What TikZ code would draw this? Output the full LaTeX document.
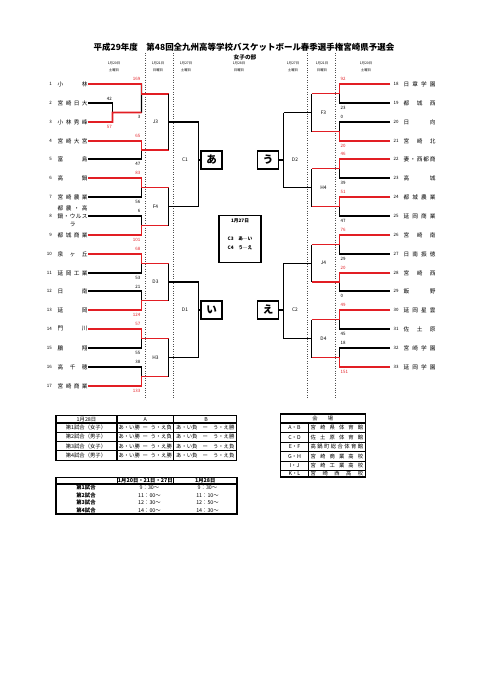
\documentclass[tikz,border=0pt]{standalone}
\usepackage{fontspec}
\setmainfont{Noto Sans CJK JP}
\usetikzlibrary{calc}

\definecolor{winred}{RGB}{226,30,36}
\definecolor{sepgray}{RGB}{80,80,80}

% spread the characters of a name over a fixed width
\makeatletter
\newcommand\spreadtext[2]{\makebox[#1][s]{\def\sp@sep{}\edef\sp@list{#2}\expandafter\sp@loop\sp@list\@nil}}
\def\sp@loop#1\@nil{\@tfor\sp@ch:=#1\do{\sp@sep\sp@ch\def\sp@sep{\hfill}}}
\makeatother

% one first-round match: upper team, lower team, length of the output line
\newcommand\firstround[3]{%
  \coordinate (m#1) at ($(v#1)!.5!(v#2)$);
  \coordinate (q#1) at ($(m#1)+(#3,0)$);
  \draw[bk] (e#1) -- (v#1) -- (v#2) -- (e#2);
  \draw[bk] (m#1) -- (q#1);
}

\tikzset{
  bk/.style={draw=black, line width=1.8pt},
  rd/.style={draw=winred, line width=2.3pt},
  colsep/.style={draw=sepgray, dotted, line width=1pt},
  seed/.style={font=\fontsize{5.5}{6}\selectfont, inner sep=0pt},
  tname/.style={font=\fontsize{7}{9.9}\selectfont, inner sep=0pt, anchor=west},
  pts/.style={font=\fontsize{5.5}{6}\selectfont, inner sep=0pt, text=#1},
  pts/.default=black,
  rnd/.style={font=\fontsize{6}{7}\selectfont, inner sep=0pt},
  dayhead/.style={font=\fontsize{4.2}{8.3}\selectfont, align=center, inner sep=0pt},
  pool/.style={draw, line width=1.7pt, minimum width=26pt, minimum height=22pt, inner sep=0pt, font=\fontsize{13}{14}\selectfont\bfseries},
  infobox/.style={draw, line width=1.3pt, minimum width=52pt, minimum height=57.8pt},
  infotext/.style={font=\fontsize{5.8}{7}\selectfont\bfseries, inner sep=0pt},
  tcell/.style={font=\fontsize{6.6}{7}\selectfont, inner sep=0pt},
  gridthin/.style={line width=1.1pt},
  gridthick/.style={line width=1.8pt},
}

\begin{document}
\begin{tikzpicture}[x=1.2376pt, y=-1.2376pt]
\useasboundingbox (0,0) rectangle (481,680);

% title
\node[font=\fontsize{10.5}{12}\selectfont\bfseries, inner sep=0pt] (title) at (244,47)
  {平成29年度　第48回全九州高等学校バスケットボール春季選手権宮崎県予選会};
\node[font=\fontsize{7}{8}\selectfont\bfseries, inner sep=0pt] (subtitle) at (245,57) {女子の部};

% day headings
\foreach \dx/\dd/\dw [count=\n] in {114/20/土, 158/21/日, 186/27/土, 239/28/日, 293/27/土, 322/21/日, 366/20/土}
  \node[dayhead] (day\n) at (\dx,66.5) {1月\dd 日\\\dw 曜日};

% column separators
\foreach \sx in {145.5,173.5,307.5,335.5}
  \draw[colsep] (\sx,53) -- (\sx,398);

% ---- left half ----
\foreach \i/\nm in {1/小林, 2/宮崎日大, 3/小林秀峰, 4/宮崎大宮, 5/富島, 6/高鍋, 7/宮崎農業, 9/都城商業,
                    10/泉ヶ丘, 11/延岡工業, 12/日南, 13/延岡, 14/門川, 15/鵬翔, 16/高千穂, 17/宮崎商業}{
  \pgfmathsetmacro\ty{84+round((\i-1)*18.85)}
  \node[seed, anchor=east] (no\i) at (52,\ty) {\i};
  \node[tname] (t\i) at (57.5,\ty) {\spreadtext{37.1pt}{\nm}};
  \coordinate (e\i) at (88,\ty);
  \coordinate (v\i) at (141.5,\ty);
}
\pgfmathsetmacro\ty{84+round(7*18.85)}
\node[seed, anchor=east] (no8) at (52,\ty) {8};
\node[tname, align=center] (t8) at (57.5,\ty)
  {\spreadtext{37.1pt}{都農・高}\\\spreadtext{37.1pt}{鍋・ウルス}\\ラ};
\coordinate (e8) at (88,\ty);
\coordinate (v8) at (141.5,\ty);

% first round
\coordinate (u2) at ($(e2)+(24.5,0)$);
\coordinate (u3) at ($(e3)+(24.5,0)$);
\coordinate (m2) at ($(u2)!.5!(u3)$);
\coordinate (j2) at ($(m2)+(29,0)$);
\draw[bk] (e2) -- (u2) -- (u3) -- (e3);
\draw[bk] (m2) -- (j2);
\coordinate (m1) at ($(v1)+(0,10)$);
\coordinate (q1) at ($(m1)+(27,0)$);
\draw[bk] (e1) -- (v1) -- (j2);
\draw[bk] (m1) -- (q1);
\firstround{4}{5}{27}
\firstround{6}{7}{27}
\firstround{8}{9}{27}
\firstround{10}{11}{27}
\firstround{12}{13}{27}
\firstround{14}{15}{27}
\firstround{16}{17}{27}

% winners
\draw[rd] (e3) -- (u3) -- (m2) -- (j2);
\draw[rd] (e1) -- (v1) -- (m1) -- (q1);
\foreach \w/\hi in {4/4, 6/6, 9/8, 10/10, 13/12, 14/14, 17/16}
  \draw[rd] (e\w) -- (v\w) -- (m\hi) -- (q\hi);

% scores
\node[pts, anchor=east] (p2) at ($(e2)+(24,-4.6)$) {42};
\node[pts=winred, anchor=east] (p3) at ($(e3)+(24,4.6)$) {57};
\node[pts, anchor=east] (pj2) at ($(j2)+(-1,4.6)$) {3};
\foreach \i/\sc/\dy/\cl in {1/169/-4.6/winred, 4/65/-4.6/winred, 5/47/4.6/black, 6/83/-4.6/winred,
    7/56/4.6/black, 8/6/-4.6/black, 9/101/4.6/winred, 10/68/-4.6/winred, 11/53/4.6/black,
    12/21/-4.6/black, 13/124/4.6/winred, 14/57/-4.6/winred, 15/55/4.6/black, 16/38/-4.6/black,
    17/133/4.6/winred}
  \node[pts=\cl, anchor=east] (p\i) at ($(e\i)+(52.5,\dy)$) {\sc};

% second round
\foreach \hi/\lo/\rn in {1/4/J3, 6/8/F4, 10/12/D3, 14/16/H3}{
  \draw[bk] (q\hi) -- (q\lo);
  \coordinate (r\rn) at ($(q\hi)!.5!(q\lo)$);
  \coordinate (s\rn) at ($(r\rn)+(30,0)$);
  \draw[bk] (r\rn) -- (s\rn);
  \node[rnd] (lbl\rn) at ($(r\rn)+(-13,0)$) {\rn};
}

% pools
\node[pool] (poolA) at (211.5,160) {あ};
\node[pool] (poolI) at (211.5,310) {い};
\draw[bk] (sJ3) -- (sF4);
\draw[bk] (sJ3 |- poolA) -- (poolA);
\node[rnd] (lblC1) at (185,160) {C1};
\draw[bk] (sD3) -- (sH3);
\draw[bk] (sD3 |- poolI) -- (poolI);
\node[rnd] (lblD1) at (185,310) {D1};

% ---- right half ----
\foreach \i/\nm in {18/日章学園, 19/都城西, 20/日向, 21/宮崎北, 22/妻・西都商, 23/高城, 24/都城農業, 25/延岡商業,
                    26/宮崎南, 27/日南振徳, 28/宮崎西, 29/飯野, 30/延岡星雲, 31/佐土原, 32/宮崎学園, 33/延岡学園}{
  \pgfmathsetmacro\ty{84+round((\i-18)*18.85)}
  \node[seed, anchor=west] (no\i) at (393.5,\ty) {\i};
  \node[tname] (t\i) at (403.5,\ty) {\spreadtext{39.5pt}{\nm}};
  \coordinate (e\i) at (390,\ty);
  \coordinate (v\i) at (339.5,\ty);
}
\firstround{18}{19}{-28}
\firstround{20}{21}{-28}
\firstround{22}{23}{-28}
\firstround{24}{25}{-28}
\firstround{26}{27}{-28}
\firstround{28}{29}{-28}
\firstround{30}{31}{-28}
\firstround{32}{33}{-28}
\foreach \w/\hi in {18/18, 21/20, 22/22, 24/24, 26/26, 28/28, 30/30, 33/32}
  \draw[rd] (e\w) -- (v\w) -- (m\hi) -- (q\hi);

\foreach \i/\sc/\dy/\cl in {18/92/-4.6/winred, 19/23/4.6/black, 20/0/-4.6/black, 21/20/4.6/winred,
    22/46/-4.6/winred, 23/39/4.6/black, 24/51/-4.6/winred, 25/47/4.6/black, 26/76/-4.6/winred,
    27/29/4.6/black, 28/20/-4.6/winred, 29/0/4.6/black, 30/49/-4.6/winred, 31/45/4.6/black,
    32/18/-4.6/black, 33/151/4.6/winred}
  \node[pts=\cl, anchor=west] (p\i) at ($(e\i)+(-49.5,\dy)$) {\sc};

\foreach \hi/\lo/\rn in {18/20/F3, 22/24/H4, 26/28/J4, 30/32/D4}{
  \draw[bk] (q\hi) -- (q\lo);
  \coordinate (r\rn) at ($(q\hi)!.5!(q\lo)$);
  \coordinate (s\rn) at ($(r\rn)+(-28,0)$);
  \draw[bk] (r\rn) -- (s\rn);
  \node[rnd] (lbl\rn) at ($(r\rn)+(12,0)$) {\rn};
}
\node[pool] (poolU) at (268,160) {う};
\node[pool] (poolE) at (268,310) {え};
\draw[bk] (sF3) -- (sH4);
\draw[bk] (sF3 |- poolU) -- (poolU);
\node[rnd] (lblD2) at (295,160) {D2};
\draw[bk] (sJ4) -- (sD4);
\draw[bk] (sJ4 |- poolE) -- (poolE);
\node[rnd] (lblC2) at (295,310) {C2};

% semifinal note
\node[infobox] (info) at (240,239.3) {};
\node[infotext] (infodate) at (240,220.7) {1月27日};
\node[infotext] (infoC3) at (240,239) {C3\quad あ―い};
\node[infotext] (infoC4) at (240,248) {C4\quad う―え};

% ---- table: 1月28日 ----
\foreach \yy in {432.5, 441.5, 450.5}
  \draw[gridthin] (56,\yy) -- (236.5,\yy);
\draw[gridthick] (56,423) -- (236.5,423);
\draw[gridthick] (117,415.5) -- (117,460.5);
\draw[gridthick] (173.5,415.5) -- (173.5,460.5);
\draw[gridthick] (56,415.5) rectangle (236.5,460.5);
\node[tcell] (h1) at (86.5,419.2) {1月28日};
\node[tcell] (hA) at (145.3,419.2) {A};
\node[tcell] (hB) at (206,419.2) {B};
\foreach \k/\g/\ra/\rb [count=\n] in {1/女子/負/勝, 2/男子/負/勝, 3/女子/勝/負, 4/男子/勝/負}{
  \pgfmathsetmacro\ry{427.5+(\n-1)*9.3}
  \node[tcell] (g\n) at (86,\ry) {第\k 試合（\g）};
  \node[tcell] (a\n) at (145.2,\ry) {\makebox[66pt][s]{あ・い勝\hfill ー\hfill う・え\ra}};
  \node[tcell] (b\n) at (205.3,\ry) {\makebox[72pt][s]{あ・い負\hfill ー\hfill う・え\rb}};
}

% ---- table: times ----
\draw[gridthick] (56,477.5) rectangle (237,514);
\draw[gridthick] (56,484) -- (237,484);
\draw[gridthin] (117,477.5) -- (117,484);
\draw[gridthin] (173.5,477.5) -- (173.5,484);
\node[tcell, font=\fontsize{6.6}{7}\selectfont\bfseries] (th1) at (145.3,480.7) {1月20日・21日・27日};
\node[tcell, font=\fontsize{6.6}{7}\selectfont\bfseries] (th2) at (205.3,480.7) {1月28日};
\foreach \k/\ta/\tb in {1/9：30〜/9：30〜, 2/11：00〜/11：10〜, 3/12：30〜/12：50〜, 4/14：00〜/14：30〜}{
  \pgfmathsetmacro\ry{487.7+(\k-1)*7.5}
  \node[tcell, font=\fontsize{6.6}{7}\selectfont\bfseries] (tg\k) at (86,\ry) {第\k 試合};
  \node[tcell] (ta\k) at (149.5,\ry) {\ta};
  \node[tcell] (tb\k) at (207.5,\ry) {\tb};
}

% ---- table: venues ----
\foreach \yy in {432.5, 442, 451.5, 461, 470.5}
  \draw[gridthin] (280.5,\yy) -- (365.5,\yy);
\draw[gridthick] (280.5,414) rectangle (365.5,477);
\draw[gridthick] (280.5,423) -- (365.5,423);
\draw[gridthin] (308.5,423) -- (308.5,477);
\node[tcell] (vh) at (322.8,418.5) {\spreadtext{26pt}{会場}};
\foreach \ct/\vn/\ry in {A・B/宮崎県体育館/427.8, C・D/佐土原体育館/437.3, E・F/高鍋町総合体育館/446.8,
                          G・H/宮崎商業高校/456.3, I・J/宮崎工業高校/465.8, K・L/宮崎西高校/473.8}{
  \node[tcell] (vc\ry) at (294.5,\ry) {\ct};
  \node[tcell] (vn\ry) at (337,\ry) {\spreadtext{65pt}{\vn}};
}
\end{tikzpicture}
\end{document}
